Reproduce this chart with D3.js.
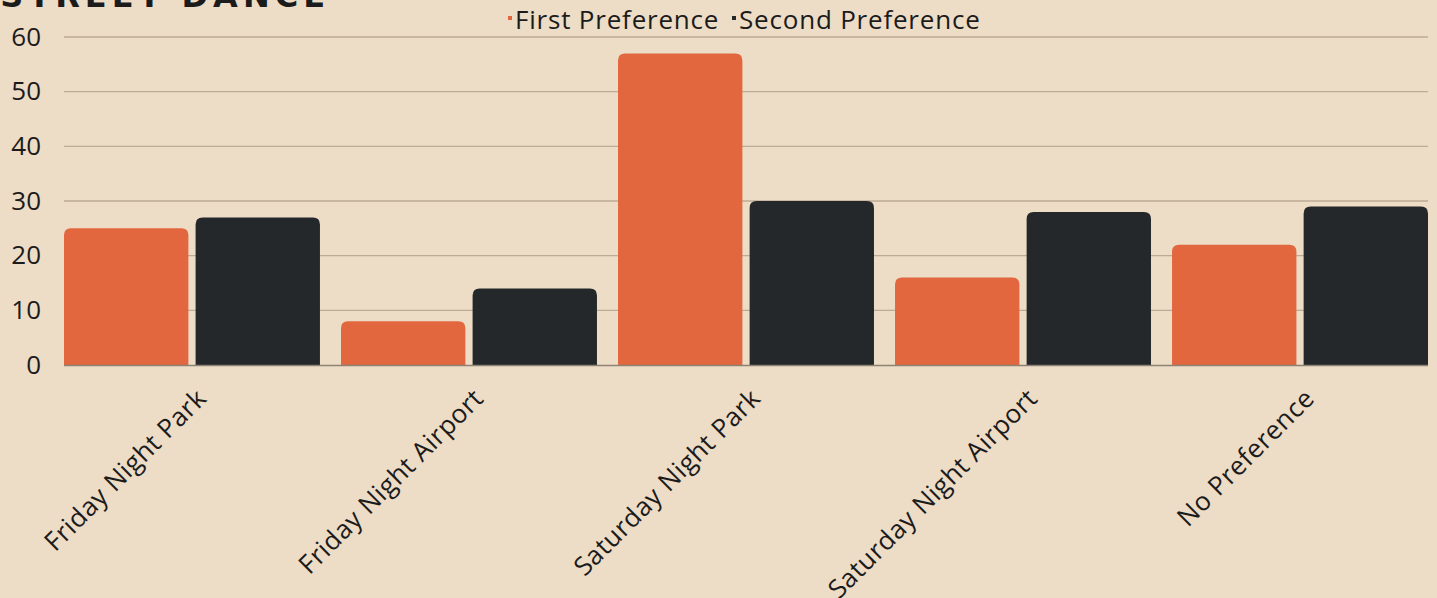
<!DOCTYPE html>
<html><head><meta charset="utf-8">
<script src="https://cdn.jsdelivr.net/npm/d3@7"></script>
<style>
html,body{margin:0;padding:0;background:#eddcc6;overflow:hidden;}
svg{display:block;}
text{font-family:"Open Sans",sans-serif;fill:#1b1b1b;}
</style></head><body>
<svg id="chart" width="1437" height="598"></svg>
<script>
const categories = ["Friday Night Park","Friday Night Airport","Saturday Night Park","Saturday Night Airport","No Preference"];
const seriesNames = ["First Preference","Second Preference"];
const firstPref = [25, 8, 57, 16, 22];
const secondPref = [27, 14, 30, 28, 29];
const yTicks = [0,10,20,30,40,50,60];
const colors = ["#e2673f","#25282b"];

const W=1437,H=598;
const m={left:64,right:9,top:37,bottom:233};
const svg=d3.select("#chart");
svg.append("rect").attr("width",W).attr("height",H).attr("fill","#eddcc6");

const x0=d3.scaleBand().domain(categories).range([m.left,W-m.right]).paddingInner(0.076).paddingOuter(0);
const x1=d3.scaleBand().domain(seriesNames).range([0,x0.bandwidth()]).paddingInner(0.055);
const y=d3.scaleLinear().domain([0,60]).range([H-m.bottom,m.top]);

// title (clipped at top, as in the reference)
svg.append("text").attr("x",330).attr("y",7).attr("text-anchor","end").text("STREET DANCE")
  .style("font-family","'DejaVu Sans',sans-serif").style("font-weight","bold")
  .style("font-size","32px").style("letter-spacing","5px").attr("fill","#1b1b1b");

// gridlines
svg.append("g").selectAll("line").data(yTicks.filter(d=>d>0)).join("line")
  .attr("x1",m.left).attr("x2",W-m.right).attr("y1",d=>y(d)).attr("y2",d=>y(d))
  .attr("stroke","#bcab96").attr("stroke-width",1.3);

// y axis
const ya=svg.append("g").attr("transform",`translate(${m.left},0)`)
  .call(d3.axisLeft(y).tickValues(yTicks).tickSize(0).tickPadding(23));
ya.select(".domain").remove();
ya.selectAll("text").style("font-size","26px").style("font-family","'Open Sans', sans-serif").attr("fill","#1b1b1b");

const data=categories.map((c,i)=>({cat:c,vals:[firstPref[i],secondPref[i]]}));
const r=7;
function topRounded(x,yTop,w,h){
  const rr=Math.min(r,h,w/2);
  return `M${x},${yTop+h}V${yTop+rr}Q${x},${yTop} ${x+rr},${yTop}H${x+w-rr}Q${x+w},${yTop} ${x+w},${yTop+rr}V${yTop+h}Z`;
}
svg.append("g").selectAll("g").data(data).join("g")
  .attr("transform",d=>`translate(${x0(d.cat)},0)`)
  .selectAll("path").data(d=>d.vals.map((v,j)=>({s:seriesNames[j],v,j}))).join("path")
  .attr("d",d=>topRounded(x1(d.s),y(d.v),x1.bandwidth(),y(0)-y(d.v)))
  .attr("fill",d=>colors[d.j]);

// baseline
svg.append("line").attr("x1",m.left).attr("x2",W-m.right).attr("y1",y(0)+0.5).attr("y2",y(0)+0.5)
  .attr("stroke","#8c8274").attr("stroke-width",1.3);

// x axis labels
const xa=svg.append("g").attr("transform",`translate(0,${y(0)})`)
  .call(d3.axisBottom(x0).tickSize(0).tickPadding(0));
xa.select(".domain").remove();
xa.selectAll("text").style("font-size","26px").style("letter-spacing","0.5px").style("font-family","'Open Sans', sans-serif")
  .attr("text-anchor","end").attr("dy","0")
  .attr("transform","translate(16,35) rotate(-45)");

// legend
const leg=svg.append("g");
const legX=[508,732];
seriesNames.forEach((s,i)=>{
  leg.append("rect").attr("x",legX[i]).attr("y",16).attr("width",4).attr("height",4).attr("fill",colors[i]);
  leg.append("text").attr("x",legX[i]+7).attr("y",29).text(s).style("font-size","26px").style("letter-spacing","0.8px");
});
</script></body></html>
